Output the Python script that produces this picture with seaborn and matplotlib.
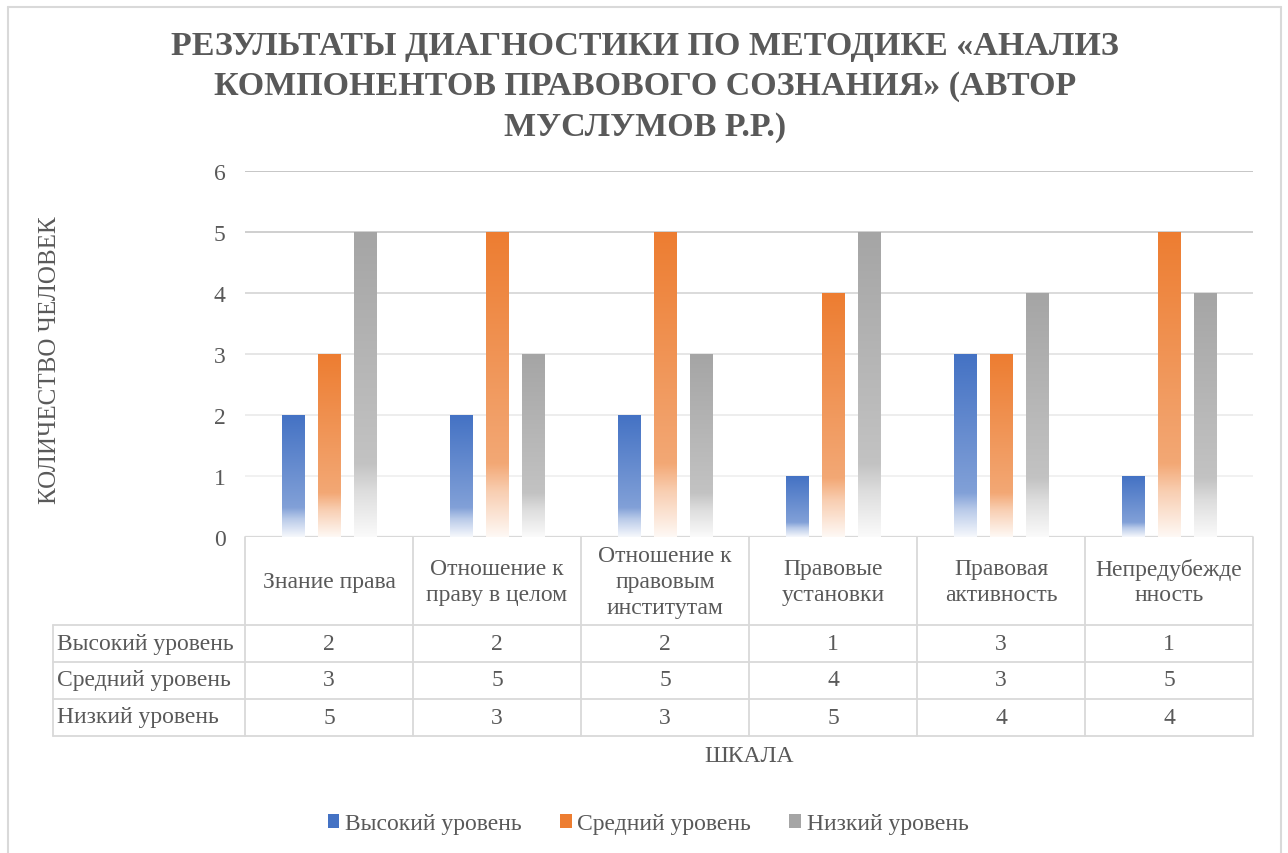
import numpy as np
import pandas as pd
import matplotlib
matplotlib.use("Agg")
import matplotlib.pyplot as plt
import matplotlib.transforms as mtransforms
from matplotlib.lines import Line2D
from matplotlib.patches import Patch
from matplotlib.colors import to_rgb
import seaborn as sns

# ---------------- data ----------------
categories = ["Знание права", "Отношение к праву в целом", "Отношение к правовым институтам",
              "Правовые установки", "Правовая активность", "Непредубежденность"]
header_labels = ["Знание права", "Отношение к\nправу в целом", "Отношение к\nправовым\nинститутам",
                 "Правовые\nустановки", "Правовая\nактивность", "Непредубежде\nнность"]
levels = ["Высокий уровень", "Средний уровень", "Низкий уровень"]
high = [2, 2, 2, 1, 3, 1]
mid = [3, 5, 5, 4, 3, 5]
low = [5, 3, 3, 5, 4, 4]
yticks = [0, 1, 2, 3, 4, 5, 6]

title = "РЕЗУЛЬТАТЫ ДИАГНОСТИКИ ПО МЕТОДИКЕ «АНАЛИЗ\nКОМПОНЕНТОВ ПРАВОВОГО СОЗНАНИЯ» (АВТОР\nМУСЛУМОВ Р.Р.)"
ylabel = "КОЛИЧЕСТВО ЧЕЛОВЕК"
xlabel = "ШКАЛА"

palette = ["#4472C4", "#ED7D31", "#A5A5A5"]
text_color = "#595959"
line_color = "#D9D9D9"

series = {levels[0]: high, levels[1]: mid, levels[2]: low}
df = pd.DataFrame([{"cat": c, "level": lv, "value": v}
                   for lv in levels for c, v in zip(categories, series[lv])])

# ---------------- figure ----------------
sns.set_theme(style="white")
plt.rcParams["font.family"] = ["Liberation Serif", "DejaVu Serif"]
W, H = 1288, 854
FS = 17
fig = plt.figure(figsize=(W / 100, H / 100), dpi=100)
fig.patch.set_facecolor("white")

def fx(px):
    return px / W

def fy(py):
    return 1 - py / H

ax = fig.add_axes([fx(245), fy(538), fx(1253) - fx(245), fy(172) - fy(538)])

sns.barplot(data=df, x="cat", y="value", hue="level", hue_order=levels, order=categories,
            palette=palette, saturation=1, width=0.643, gap=0.388, legend=False, ax=ax,
            errorbar=None)

ax.set_xlim(-0.5, len(categories) - 0.5)
ax.set_ylim(0, 6)

# gradient fill of bars
stops_t = [0.0, 0.76, 0.85, 1.0]
stops_w = [0.0, 0.33, 0.62, 0.95]
for p in list(ax.patches):
    base = np.array(to_rgb(p.get_facecolor()))
    x0, y0 = p.get_x(), p.get_y()
    w, h = p.get_width(), p.get_height()
    if h <= 0:
        continue
    t = np.linspace(0, 1, 256)
    mix = np.interp(t, stops_t, stops_w)[:, None]
    cols = base[None, :] * (1 - mix) + mix
    img = cols[:, None, :]
    p.set_facecolor("none")
    p.set_edgecolor("none")
    im = ax.imshow(img, extent=[x0, x0 + w, y0, y0 + h], aspect="auto",
                   interpolation="bilinear", zorder=3)
    im.set_clip_path(p)

ax.set_xlim(-0.5, len(categories) - 0.5)
ax.set_ylim(0, 6)
ax.set_aspect("auto")

# grid lines (Excel gradient-ish lines)
grid_cols = {0: "#D9D9D9", 1: "#F0F0F0", 2: "#ECECEC", 3: "#E4E4E4", 4: "#D8D8D8", 5: "#CCCCCC", 6: "#C2C2C2"}
for yv in yticks:
    ax.axhline(yv, color=grid_cols[yv], lw=1.6 if yv == 0 else 1.3, zorder=1)

for s in ax.spines.values():
    s.set_visible(False)
ax.set_yticks(yticks)
ax.set_yticklabels([str(v) for v in yticks], fontsize=FS, color=text_color)
ax.tick_params(axis="y", length=0, pad=14)
ax.set_xticks(range(len(categories)))
ax.set_xticklabels(header_labels, fontsize=FS, color=text_color, linespacing=1.3)
ax.tick_params(axis="x", length=0, pad=32)
for lab in ax.get_xticklabels():
    lab.set_va("center")
ax.set_xlabel("")
ax.set_ylabel("")

# ---------------- data table ----------------
blend = mtransforms.blended_transform_factory(ax.transData, fig.transFigure)
row_y = [645, 681, 718]
for ri, lv in enumerate(levels):
    fig.text(fx(57), fy(row_y[ri]), lv, ha="left", va="center", fontsize=FS, color=text_color)
    for ci, v in enumerate(series[lv]):
        ax.text(ci, fy(row_y[ri]), str(v), transform=blend, ha="center", va="center",
                fontsize=FS, color=text_color, clip_on=False)

for k in range(len(categories) + 1):
    fig.add_artist(Line2D([k - 0.5, k - 0.5], [fy(538), fy(737)], transform=blend,
                          color=line_color, lw=1.3))
fig.add_artist(Line2D([fx(53), fx(53)], [fy(626), fy(737)], transform=fig.transFigure,
                      color=line_color, lw=1.3))
for yy in [626, 663, 700, 737]:
    fig.add_artist(Line2D([fx(53), fx(1253)], [fy(yy), fy(yy)], transform=fig.transFigure,
                          color=line_color, lw=1.3))

# ---------------- texts ----------------
fig.text(fx(645), fy(87), title, ha="center", va="center", fontsize=24.5, fontweight="bold",
         color=text_color, linespacing=1.38)
fig.text(fx(50), fy(360), ylabel, rotation=90, ha="center", va="center", fontsize=18,
         color=text_color)
fig.text(fx(749), fy(757), xlabel, ha="center", va="center", fontsize=FS, color=text_color)

handles = [Patch(facecolor=c, edgecolor="none") for c in palette]
fig.legend(handles, levels, loc="center", bbox_to_anchor=(fx(648), fy(825)), ncol=3,
           frameon=False, fontsize=FS, handlelength=0.5, handleheight=0.5,
           handletextpad=0.25, columnspacing=1.6, labelcolor=text_color)

# outer chart border
for xs, ys in [([8, 8], [8, 860]), ([8, 1281], [8, 8]), ([1281, 1281], [8, 860])]:
    fig.add_artist(Line2D([fx(v) for v in xs], [fy(v) for v in ys], transform=fig.transFigure,
                          color=line_color, lw=1.5))

fig.savefig("out.png", dpi=100)
